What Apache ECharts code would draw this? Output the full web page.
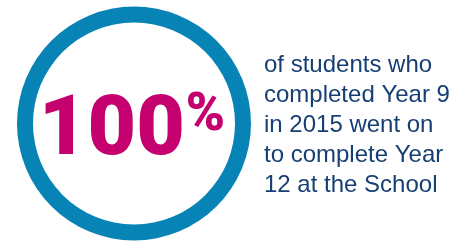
<!DOCTYPE html>
<html>
<head>
<meta charset="utf-8">
<script src="https://cdn.jsdelivr.net/npm/echarts@6/dist/echarts.min.js"></script>
<style>
html,body{margin:0;padding:0;background:#fff;}
#c{width:458px;height:242px;}
</style>
</head>
<body>
<div id="c"></div>
<script>
var statLabels = ['completed'];
var statValues = [100];
var descLines = ['of students who', 'completed Year 9', 'in 2015 went on', 'to complete Year', '12 at the School'];

var chart = echarts.init(document.getElementById('c'), null, {renderer: 'canvas'});
chart.setOption({
  animation: false,
  backgroundColor: '#ffffff',
  title: {
    text: descLines.join('\n'),
    left: 264,
    top: 50,
    padding: 0,
    textStyle: {
      fontFamily: 'Liberation Sans, Arial, sans-serif',
      fontWeight: 'normal',
      fontSize: 24,
      lineHeight: 30,
      color: '#173f73'
    }
  },
  series: [{
    type: 'pie',
    center: [134, 123.5],
    radius: [101, 117],
    silent: true,
    startAngle: 90,
    itemStyle: {color: '#0784b5', borderWidth: 0},
    label: {
      show: true,
      position: 'center',
      formatter: function (p) { return '{a|' + p.value + '}{b|%}'; },
      rich: {
        a: {fontFamily: 'Roboto, Liberation Sans, Arial, sans-serif', fontWeight: 900, fontSize: 84, lineHeight: 84, color: '#c5006f', padding: [19, 0, 0, 0]},
        b: {fontFamily: 'Roboto, Liberation Sans, Arial, sans-serif', fontWeight: 900, fontSize: 53, lineHeight: 53, color: '#c5006f', verticalAlign: 'top', padding: [9, 4, 0, 1]}
      }
    },
    labelLine: {show: false},
    emphasis: {disabled: true},
    data: statLabels.map(function (n, i) { return {name: n, value: statValues[i]}; })
  }]
});
</script>
</body>
</html>
